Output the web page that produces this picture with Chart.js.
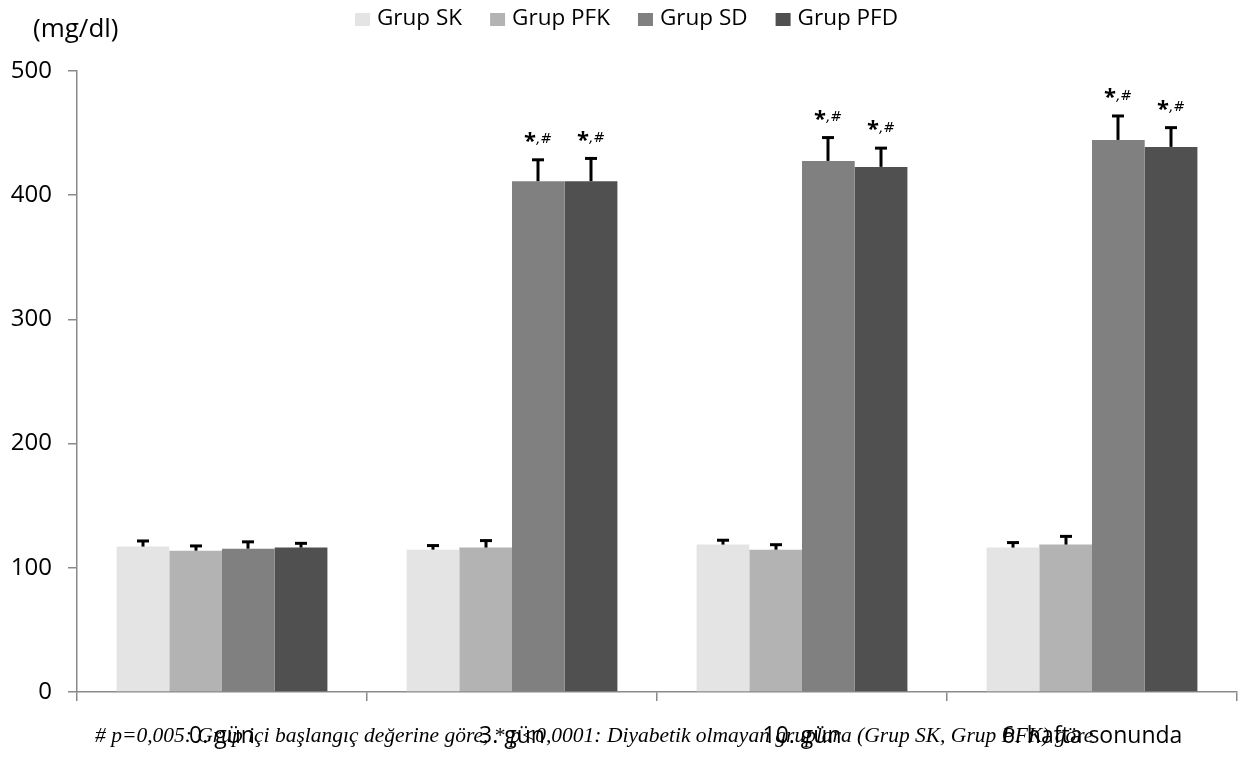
<!DOCTYPE html>
<html>
<head>
<meta charset="utf-8">
<script src="https://cdn.jsdelivr.net/npm/chart.js@4.4.1/dist/chart.umd.min.js"></script>
<style>
  html, body { margin: 0; padding: 0; background: #ffffff; }
  #wrap { width: 1245px; height: 758px; position: relative; }
</style>
</head>
<body>
<div id="wrap"><canvas id="c" width="1245" height="758"></canvas></div>
<script>
// Blood glucose (mg/dl) by group and time point
const categories = ['0. gün', '3. gün', '10. gün', '6. hafta sonunda'];
const groupNames = ['Grup SK', 'Grup PFK', 'Grup SD', 'Grup PFD'];
const groupColors = ['#e4e4e4', '#b3b3b3', '#808080', '#505050'];

const grupSK  = [117.1, 114.6, 118.7, 116.3];
const grupPFK = [113.8, 116.3, 114.6, 118.7];
const grupSD  = [115.4, 411.3, 427.6, 444.5];
const grupPFD = [116.3, 411.3, 422.8, 438.9];

const errSK  = [4.5, 3.3, 3.5, 4.0];
const errPFK = [3.8, 5.6, 4.0, 6.6];
const errSD  = [5.5, 17.2, 18.8, 19.3];
const errPFD = [3.4, 18.3, 15.1, 15.5];

// significance marks ("*,#") shown above a bar
const markSK  = [false, false, false, false];
const markPFK = [false, false, false, false];
const markSD  = [false, true, true, true];
const markPFD = [false, true, true, true];

const yTicks = [0, 100, 200, 300, 400, 500];
const unitLabel = '(mg/dl)';
const footnote = '# p=0,005: Grup içi başlangıç değerine göre, * p<0,0001: Diyabetik olmayan gruplara (Grup SK, Grup PFK) göre';

const seriesValues = [grupSK, grupPFK, grupSD, grupPFD];
const seriesErrors = [errSK, errPFK, errSD, errPFD];
const seriesMarks = [markSK, markPFK, markSD, markPFD];

const SANS = '"Open Sans", "DejaVu Sans", sans-serif';
const axisGray = '#8a8a8a';

// error bars and significance marks on top of each bar
const errorBarPlugin = {
  id: 'errorBars',
  afterDatasetsDraw(chart) {
    const ctx = chart.ctx;
    const yScale = chart.scales.y;
    ctx.save();
    chart.data.datasets.forEach((ds, di) => {
      const meta = chart.getDatasetMeta(di);
      meta.data.forEach((bar, i) => {
        const v = ds.data[i];
        const e = seriesErrors[di][i];
        const yTop = yScale.getPixelForValue(v + e);
        const x = Math.round(bar.x);
        ctx.strokeStyle = '#000000';
        ctx.lineWidth = 3;
        ctx.beginPath();
        ctx.moveTo(x, bar.y);
        ctx.lineTo(x, yTop);
        ctx.stroke();
        ctx.beginPath();
        ctx.moveTo(x - 6, yTop);
        ctx.lineTo(x + 6, yTop);
        ctx.stroke();
        if (seriesMarks[di][i]) {
          const ly = yTop - 21;
          ctx.fillStyle = '#000000';
          ctx.textBaseline = 'middle';
          ctx.font = 'bold 22px ' + SANS;
          const starW = ctx.measureText('*').width;
          ctx.font = 'italic 14px "DejaVu Sans", sans-serif';
          const restW = ctx.measureText(',#').width;
          const x0 = x - (starW + restW) / 2;
          ctx.textAlign = 'left';
          ctx.font = 'bold 22px ' + SANS;
          ctx.fillText('*', x0, ly + 3);
          ctx.font = 'italic 14px "DejaVu Sans", sans-serif';
          ctx.fillText(',#', x0 + starW, ly + 1);
        }
      });
    });
    ctx.restore();
  }
};

// legend row, unit label and footnote
const decorPlugin = {
  id: 'decor',
  afterDraw(chart) {
    const ctx = chart.ctx;
    ctx.save();
    // legend
    ctx.font = '22.5px ' + SANS;
    ctx.textBaseline = 'middle';
    ctx.textAlign = 'left';
    let x = 355;
    const yMid = 19;
    groupNames.forEach((name, i) => {
      ctx.fillStyle = groupColors[i];
      ctx.fillRect(x, yMid - 6, 15, 13);
      ctx.fillStyle = '#000000';
      ctx.fillText(name, x + 22, yMid);
      x += 22 + ctx.measureText(name).width + 28;
    });
    // unit label
    ctx.font = '26px ' + SANS;
    ctx.fillText(unitLabel, 33, 30);
    // footnote
    ctx.font = 'italic 21.5px "Liberation Serif", "Times New Roman", serif';
    ctx.textBaseline = 'alphabetic';
    ctx.fillText(footnote, 95, 742);
    ctx.restore();
  }
};

const chart = new Chart(document.getElementById('c'), {
  type: 'bar',
  data: {
    labels: categories,
    datasets: groupNames.map((name, i) => ({
      label: name,
      data: seriesValues[i],
      backgroundColor: groupColors[i],
      borderWidth: 0,
      categoryPercentage: 0.727,
      barPercentage: 1.0
    }))
  },
  options: {
    responsive: false,
    animation: false,
    layout: { padding: { top: 71, right: 8, left: 0, bottom: 0 } },
    plugins: {
      legend: { display: false },
      tooltip: { enabled: false }
    },
    scales: {
      x: {
        offset: true,
        grid: {
          display: true,
          offset: true,
          drawOnChartArea: false,
          drawTicks: true,
          tickLength: 9,
          color: axisGray,
          lineWidth: 1.5
        },
        border: { display: true, color: axisGray, width: 1.5 },
        ticks: {
          color: '#000000',
          font: { family: SANS, size: 23 },
          padding: 22,
          maxRotation: 0,
          autoSkip: false
        },
        afterFit(scale) { scale.height = 66; }
      },
      y: {
        min: 0,
        max: 500,
        afterBuildTicks(scale) { scale.ticks = yTicks.map(v => ({ value: v })); },
        grid: {
          display: true,
          drawOnChartArea: false,
          drawTicks: true,
          tickLength: 9,
          color: axisGray,
          lineWidth: 1.5
        },
        border: { display: true, color: axisGray, width: 1.5 },
        ticks: {
          color: '#000000',
          font: { family: SANS, size: 24 },
          padding: 16
        },
        afterFit(scale) { scale.width = 77; }
      }
    }
  },
  plugins: [errorBarPlugin, decorPlugin]
});
</script>
</body>
</html>
